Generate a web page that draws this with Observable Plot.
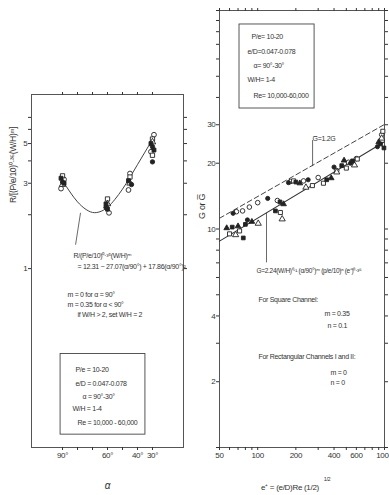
<!DOCTYPE html>
<html><head><meta charset="utf-8">
<script src="https://cdn.jsdelivr.net/npm/d3@7"></script>
<script src="https://cdn.jsdelivr.net/npm/@observablehq/plot@0.6"></script>
<style>
html,body{margin:0;padding:0;background:#fff;}
#wrap{position:relative;width:389px;height:495px;overflow:hidden;background:#fff;}
#left{position:absolute;left:0;top:0;}
#right{position:absolute;left:190px;top:0;}
</style></head><body><div id="wrap"><div id="left"></div><div id="right"></div></div>
<script>
// ---------- Left panel data (alpha in degrees, R-ratio) ----------
const curveAlpha = [90, 85, 80, 75, 70, 65, 60, 55, 50, 45, 40, 35, 30];
const curveR     = [3.10, 2.68, 2.36, 2.16, 2.06, 2.08, 2.20, 2.44, 2.78, 3.24, 3.81, 4.48, 5.27];

const leftFilledSquare = [[91,3.2],[89,3.0],[61,2.3],[60,2.15],[46,3.1],[31,5.0],[29,4.6]];
const leftOpenSquare   = [[90,3.3],[60,2.45],[45,3.25],[30,5.3],[30,4.3]];
const leftFilledCircle = [[90,3.05],[61,2.2],[44,2.95],[30,4.8],[30,3.95]];
const leftOpenCircle   = [[91,2.8],[89,3.15],[59,2.05],[46,2.75],[45,3.4],[29,5.6],[31,4.5]];
const leftTriangle     = [[90,2.95],[60,2.3],[45,3.0],[30,5.1]];

const leftXTicks  = [90, 80, 70, 60, 50, 40, 30];
const leftXLabels = {90: "90°", 60: "60°", 40: "40°", 30: "30°"};
const leftYTicks  = [1, 2, 3, 4, 5, 6, 7];
const leftYLabels = [1, 3, 5, 7];

// ---------- Right panel data (e+, G) ----------
const lineE    = [50, 1000];
const lineG    = [8.8, 25.1];
const lineGbar = [11.2, 30.1];

const rOpenCircle    = [[68,12.0],[76,12.1],[86,12.6],[100,13.2],[143,13.5],[182,16.5],[230,16.6],[300,17.2],[420,18.5],[520,20.2],[600,21.0],[950,27.0]];
const rFilledCircle  = [[64,11.8],[83,11.0],[120,13.8],[175,16.3],[250,16.8],[400,19.2],[540,20.0],[880,23.8]];
const rFilledSquare  = [[63,10.2],[77,9.1],[80,10.5],[138,12.1],[150,13.3],[200,16.4],[350,16.8],[460,19.5],[560,20.5],[930,24.5],[990,23.5]];
const rOpenSquare    = [[60,9.5],[72,9.8],[151,11.9],[192,16.6],[270,15.8],[330,16.2],[500,19.0],[610,20.9],[970,28.0]];
const rFilledTri     = [[57,10.1],[70,10.3],[90,10.8],[160,13.0],[215,16.2],[380,17.1],[480,20.6],[900,25.0]];
const rOpenTri       = [[67,9.4],[101,10.6],[156,11.1],[240,15.5],[420,18.2],[580,19.6],[950,26.0]];

const rightXTicks  = [50,60,70,80,90,100,200,300,400,500,600,700,800,900,1000];
const rightXLabels = [50,100,200,400,600,1000];
const rightYTicks  = [1,2,3,4,5,6,7,8,9,10,20,30,40,50,60,70,80,90,100];
const rightYLabels = [2,4,6,8,10,20,30];

// ---------- styling ----------
const FONT = '"Liberation Sans", Arial, sans-serif';
const INK = "#333";
const STYLE = {fontFamily: FONT, fontSize: "8px", color: INK, background: "white", overflow: "visible", letterSpacing: "-0.3px"};
function note(text, dx, dy, o = {}) {
  return Plot.text([text], {text: d => d, frameAnchor: "top-left", dx, dy, textAnchor: "start",
    fontSize: 7, fill: INK, ...o});
}
function dots(data, symbol, filled, r = 2.4) {
  return Plot.dot(data, {x: d => d[0], y: d => d[1], symbol, r,
    fill: filled ? "#222" : "white", stroke: "#222", strokeWidth: 0.9});
}

// ---------- Left plot ----------
const left = Plot.plot({
  width: 190, height: 495,
  marginLeft: 31, marginRight: 7, marginTop: 94, marginBottom: 48,
  style: STYLE,
  x: {domain: [110.7, 9.3]},
  y: {type: "log", domain: [0.1, 9.4]},
  marks: [
    Plot.frame({stroke: "#555"}),
    Plot.axisX({ticks: leftXTicks, tickFormat: d => leftXLabels[d] ?? "", tickSize: 3, tickPadding: 2, label: null, fontSize: 8}),
    Plot.axisX({anchor: "top", ticks: leftXTicks, tickFormat: () => "", tickSize: 3, label: null}),
    Plot.axisY({ticks: leftYTicks, tickFormat: d => leftYLabels.includes(d) ? String(d) : "", tickSize: 3, tickPadding: 1, label: null, fontSize: 8}),
    Plot.axisY({anchor: "right", ticks: leftYTicks, tickFormat: () => "", tickSize: 3, label: null}),
    Plot.line(curveAlpha.map((a, i) => [a, curveR[i]]), {x: d => d[0], y: d => d[1], curve: "natural", stroke: "#444", strokeWidth: 1}),
    dots(leftOpenCircle, "circle", false),
    dots(leftOpenSquare, "square", false),
    dots(leftTriangle, "triangle", false),
    dots(leftFilledSquare, "square", true, 2.2),
    dots(leftFilledCircle, "circle", true, 2.2),
    Plot.link([0], {x1: () => 78, y1: () => 2.05, x2: () => 81.3, y2: () => 1.36, stroke: "#444", strokeWidth: 0.8}),
    note("R/(P/e/10)⁰·³⁵(W/H)ᵐ", 42, 159),
    note("= 12.31 − 27.07(α/90°) + 17.86(α/90°)²", 46, 170),
    note("m = 0 for α = 90°", 36, 198),
    note("m = 0.35 for α < 90°", 36, 208),
    note("if W/H > 2, set W/H = 2", 46, 218),
    Plot.rect([0], {x1: () => 91.3, x2: () => 34.7, y1: () => 0.118, y2: () => 0.333, fill: "none", stroke: "#444", strokeWidth: 0.9}),
    note("P/e = 10-20", 44, 273),
    note("e/D = 0.047-0.078", 44, 287),
    note("α = 90°-30°", 51, 300),
    note("W/H = 1-4", 41, 312),
    note("Re = 10,000 - 60,000", 46, 326),
    Plot.text(["R/[(P/e/10)⁰·³⁵(W/H)ᵐ]"], {frameAnchor: "left", dx: -18, dy: -68, rotate: -90, fontSize: 8.5, fill: INK}),
    Plot.text(["α"], {frameAnchor: "bottom", dx: 0, dy: 41, fontSize: 10, fontStyle: "italic", fill: INK})
  ]
});
document.getElementById("left").appendChild(left);

// ---------- Right plot ----------
const right = Plot.plot({
  width: 199, height: 495,
  marginLeft: 29, marginRight: 5, marginTop: 10, marginBottom: 48,
  style: STYLE,
  x: {type: "log", domain: [50, 1000]},
  y: {type: "log", domain: [1, 100]},
  marks: [
    Plot.frame({stroke: "#555"}),
    Plot.axisX({ticks: rightXTicks, tickFormat: d => rightXLabels.includes(d) ? String(d) : "", tickSize: 3, tickPadding: 2, label: null, fontSize: 8}),
    Plot.axisX({anchor: "top", ticks: rightXTicks, tickFormat: () => "", tickSize: 3, label: null}),
    Plot.axisY({ticks: rightYTicks, tickFormat: d => rightYLabels.includes(d) ? String(d) : "", tickSize: 3, tickPadding: 1, label: null, fontSize: 8}),
    Plot.axisY({anchor: "right", ticks: rightYTicks, tickFormat: () => "", tickSize: 3, label: null}),
    Plot.line(lineE.map((e, i) => [e, lineGbar[i]]), {x: d => d[0], y: d => d[1], stroke: "#444", strokeWidth: 1, strokeDasharray: "5,3"}),
    Plot.line(lineE.map((e, i) => [e, lineG[i]]), {x: d => d[0], y: d => d[1], stroke: "#333", strokeWidth: 1.1}),
    dots(rOpenCircle, "circle", false, 2.3),
    dots(rOpenSquare, "square", false, 2.3),
    dots(rOpenTri, "triangle", false, 2.3),
    dots(rFilledSquare, "square", true, 2.1),
    dots(rFilledCircle, "circle", true, 2.1),
    dots(rFilledTri, "triangle", true, 2.1),
    Plot.rect([0], {x1: () => 71.9, x2: () => 281, y1: () => 35.6, y2: () => 86.3, fill: "none", stroke: "#444", strokeWidth: 0.9}),
    note("P/e= 10-20", 32, 24),
    note("e/D=0.047-0.078", 28, 39),
    note("α= 90°-30°", 34, 53),
    note("W/H= 1-4", 28, 67),
    note("Re= 10,000-60,000", 34, 83),
    Plot.ruleX([271], {y1: 19.3, y2: 25.4, stroke: "#444", strokeWidth: 0.8}),
    note("G̅=1.2G", 93, 126),
    Plot.ruleX([117.4], {y1: 7.0, y2: 11.8, stroke: "#444", strokeWidth: 0.8}),
    note("G=2.24(W/H)⁰·¹ (α/90°)ᵐ (p/e/10)ⁿ (e⁺)⁰·³⁵", 37, 258, {fontSize: 6.5}),
    note("For Square Channel:", 39, 287),
    note("m = 0.35", 105, 301),
    note("n = 0.1", 108, 313),
    note("For Rectangular Channels I and II:", 39, 344),
    note("m = 0", 111, 360),
    note("n = 0", 111, 370),
    Plot.text(["G or G̅"], {frameAnchor: "left", dx: -17, dy: -10, rotate: -90, fontSize: 9, fill: INK}),
    Plot.text(["e⁺ = (e/D)Re (1/2)"], {frameAnchor: "bottom", dx: -12, dy: 42, fontSize: 8, fill: INK}),
    Plot.text(["1/2"], {frameAnchor: "bottom", dx: 25, dy: 33, fontSize: 5.5, fill: INK})
  ]
});
document.getElementById("right").appendChild(right);
</script></body></html>
